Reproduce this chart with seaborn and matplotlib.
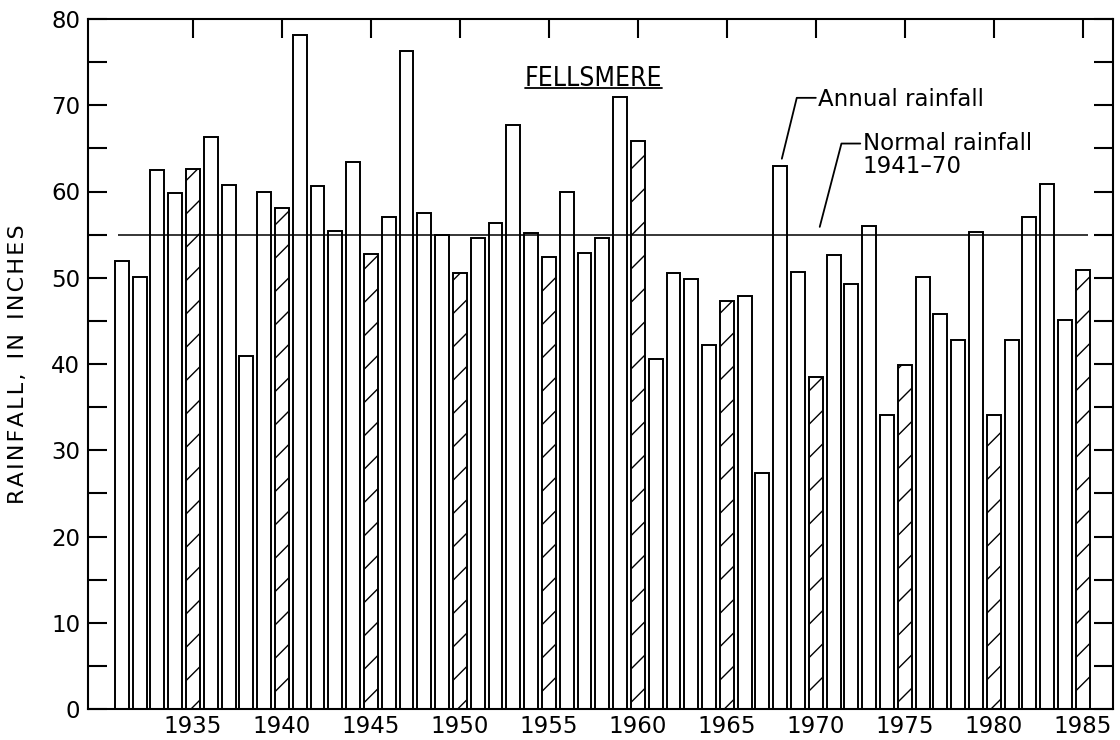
import matplotlib
matplotlib.use("Agg")
import matplotlib.pyplot as plt
import numpy as np
import seaborn as sns

# Annual rainfall at Fellsmere, inches
years = list(range(1931, 1986))
rainfall = [
    52.0, 50.1, 62.5, 59.8, 62.6, 66.3, 60.7, 40.9, 60.0, 58.1,   # 1931-1940
    78.1, 60.6, 55.4, 63.4, 52.8, 57.0, 76.3, 57.5, 55.0, 50.6,   # 1941-1950
    54.6, 56.3, 67.7, 55.2, 52.4, 60.0, 52.9, 54.6, 71.0, 65.9,   # 1951-1960
    40.6, 50.5, 49.8, 42.2, 47.3, 47.9, 27.4, 62.9, 50.7, 38.5,   # 1961-1970
    52.6, 49.3, 56.0, 34.1, 39.9, 50.1, 45.8, 42.8, 55.3, 34.1,   # 1971-1980
    42.8, 57.0, 60.9, 45.1, 50.9,                                 # 1981-1985
]
normal_rainfall = 55.0          # 1941-70 normal
x_ticks = list(range(1935, 1986, 5))
y_ticks = list(range(0, 81, 10))

sns.set_style("ticks")
plt.rcParams["font.family"] = ["DejaVu Sans"]
for key in ("text.color", "axes.labelcolor", "xtick.color", "ytick.color",
            "axes.edgecolor"):
    plt.rcParams[key] = "black"
plt.rcParams["hatch.linewidth"] = 1.0
plt.rcParams["hatch.color"] = "black"

W, H = 1120, 740
fig = plt.figure(figsize=(W / 100, H / 100), dpi=100)
ax = fig.add_axes([88 / W, 31 / H, (1113 - 88) / W, (709 - 19) / H])

sns.barplot(x=years, y=rainfall, native_scale=True, width=0.78,
            color="white", saturation=1, edgecolor="black", linewidth=1.4,
            errorbar=None, ax=ax, zorder=2)

# every fifth year is drawn with diagonal hatching
for patch, yr in zip(ax.patches, years):
    if yr % 5 == 0:
        patch.set_hatch("/")

# normal rainfall line
ax.hlines(normal_rainfall, years[0] - 0.2, years[-1] + 0.3,
          color="black", linewidth=1.1, zorder=3)

ax.set_xlim(1929.1, 1986.7)
ax.set_ylim(0, 80)
ax.set_xticks(x_ticks)
ax.set_xticklabels([str(v) for v in x_ticks])
ax.set_yticks(y_ticks)
ax.set_yticks(list(range(5, 80, 10)), minor=True)
ax.set_xlabel("")

for s in ax.spines.values():
    s.set_visible(True)
    s.set_linewidth(1.5)
    s.set_color("black")

ax.tick_params(axis="both", which="both", direction="in", length=13.5,
               width=1.5, top=True, right=True, colors="black")
ax.tick_params(axis="y", which="major", labelsize=16.5, pad=5.5)
ax.tick_params(axis="x", which="major", labelsize=16.5, pad=4.5)

hair = "\u200a"
ylab = "  ".join(hair.join(word) for word in ["RAINFALL,", "IN", "INCHES"])
ax.set_ylabel(ylab, fontsize=16)
ax.yaxis.set_label_coords(-0.0585, 0.5)

# station name, underlined
title_x, title_y = 1957.5, 72.25
t = ax.text(title_x, title_y, "FELLSMERE", ha="center", va="baseline",
            fontsize=19, family="DejaVu Sans", fontstretch="condensed")

# callouts
ax.text(1970.1, 69.9, "Annual rainfall", ha="left", va="baseline",
        fontsize=16.5)
ax.plot([1970.0, 1968.93, 1968.09], [70.86, 70.86, 63.8],
        color="black", linewidth=1.3, zorder=4)
ax.text(1972.64, 62.2, "Normal rainfall\n1941\u201370", ha="left",
        va="baseline", fontsize=16.5, linespacing=0.96)
ax.plot([1972.5, 1971.44, 1970.22], [65.56, 65.56, 55.9],
        color="black", linewidth=1.3, zorder=4)

fig.canvas.draw()
bb = t.get_window_extent(fig.canvas.get_renderer())
inv = ax.transData.inverted()
(x0, _), (x1, _) = inv.transform([[bb.x0, 0], [bb.x1, 0]])
ax.plot([x0, x1], [title_y - 0.3, title_y - 0.3], color="black",
        linewidth=1.3, zorder=4)

fig.savefig("out.png", dpi=100, facecolor="white")
